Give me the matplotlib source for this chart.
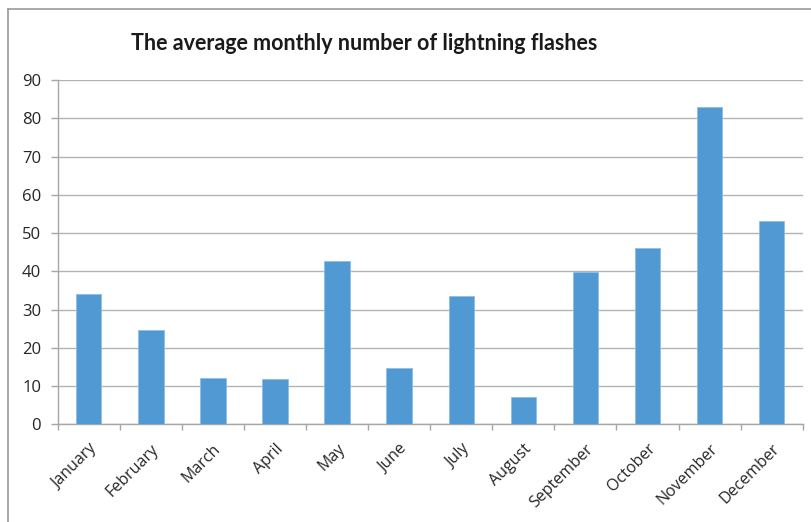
import matplotlib
matplotlib.use("Agg")
import matplotlib.pyplot as plt
from matplotlib.lines import Line2D
import numpy as np

months = ["January", "February", "March", "April", "May", "June", "July",
          "August", "September", "October", "November", "December"]
flashes = [34.0, 24.6, 12.0, 11.8, 42.7, 14.7, 33.6, 7.1, 39.7, 46.0, 83.0, 53.2]
yticks = [0, 10, 20, 30, 40, 50, 60, 70, 80, 90]
title = "The average monthly number of lightning flashes"

fig = plt.figure(figsize=(8.12, 5.22), dpi=100)
ax = fig.add_axes([57.7 / 812, 1 - 424.3 / 522, (802.7 - 57.7) / 812, (424.3 - 80) / 522])

x = np.arange(len(months))
ax.bar(x, flashes, width=0.41, color="#5199D3", edgecolor="#8DBFE6", linewidth=0.6, zorder=3)

ax.set_xlim(-0.5, len(months) - 0.5)
ax.set_ylim(0, 90)
ax.set_yticks(yticks)
ax.set_yticklabels([str(v) for v in yticks], fontsize=12, family="Open Sans", color="#262626")
ax.yaxis.grid(True, color="#B3B3B3", linewidth=1.0, zorder=0)
ax.set_axisbelow(True)

ax.set_xticks(x)
ax.set_xticklabels(months, rotation=45, ha="right", rotation_mode="anchor",
                   fontsize=11.5, family="Open Sans", color="#262626")
ax.set_xticks(np.arange(-0.5, len(months)), minor=True)
ax.tick_params(axis="x", which="major", length=0, pad=12)
ax.tick_params(axis="x", which="minor", length=4, color="#A6A6A6", width=1)
ax.tick_params(axis="y", length=5, color="#A6A6A6", width=1, pad=7)

for s in ["top", "right"]:
    ax.spines[s].set_visible(False)
for s in ["left", "bottom"]:
    ax.spines[s].set_color("#A6A6A6")
    ax.spines[s].set_linewidth(1.0)

fig.text(364 / 812, 1 - 43 / 522, title, ha="center", va="center",
         fontsize=15.5, fontweight="bold", family="Lato", color="#1a1a1a")

# outer chart border (top and left visible)
fig.add_artist(Line2D([8 / 812, 1], [1 - 9 / 522, 1 - 9 / 522], transform=fig.transFigure,
                      color="#9A9A9A", linewidth=1.2))
fig.add_artist(Line2D([8 / 812, 8 / 812], [0, 1 - 9 / 522], transform=fig.transFigure,
                      color="#9A9A9A", linewidth=1.2))

fig.savefig("out.png", dpi=100)
